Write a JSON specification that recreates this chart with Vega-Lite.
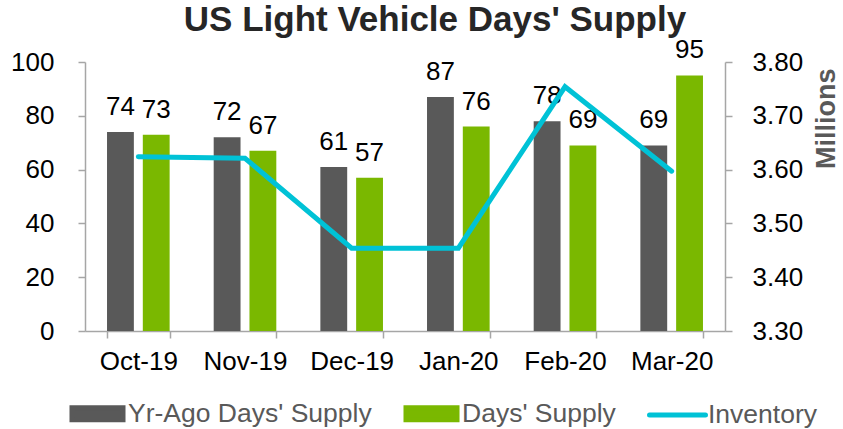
{
  "$schema": "https://vega.github.io/schema/vega-lite/v6.json",
  "width": 640,
  "height": 269,
  "autosize": {"type": "none"},
  "padding": {"left": 85, "top": 62, "right": 118, "bottom": 98},
  "config": {
    "font": "Liberation Sans",
    "view": {"stroke": null},
    "axis": {"domainColor": "#a6a6a6", "tickColor": "#a6a6a6", "labelColor": "#000000", "labelFontSize": 26, "grid": false, "tickSize": 7, "domainWidth": 1.5, "tickWidth": 1.5}
  },
  "title": {"text": "US Light Vehicle Days' Supply", "fontSize": 35, "fontWeight": "bold", "color": "#262626", "anchor": "middle", "frame": "group", "dx": 30, "offset": -1},
  "layer": [
    {
      "data": {"values": [
        {"month": "Oct-19", "series": "Yr-Ago Days' Supply", "value": 74},
        {"month": "Oct-19", "series": "Days' Supply", "value": 73},
        {"month": "Nov-19", "series": "Yr-Ago Days' Supply", "value": 72},
        {"month": "Nov-19", "series": "Days' Supply", "value": 67},
        {"month": "Dec-19", "series": "Yr-Ago Days' Supply", "value": 61},
        {"month": "Dec-19", "series": "Days' Supply", "value": 57},
        {"month": "Jan-20", "series": "Yr-Ago Days' Supply", "value": 87},
        {"month": "Jan-20", "series": "Days' Supply", "value": 76},
        {"month": "Feb-20", "series": "Yr-Ago Days' Supply", "value": 78},
        {"month": "Feb-20", "series": "Days' Supply", "value": 69},
        {"month": "Mar-20", "series": "Yr-Ago Days' Supply", "value": 69},
        {"month": "Mar-20", "series": "Days' Supply", "value": 95}
      ]},
      "encoding": {
        "x": {"field": "month", "type": "nominal", "sort": ["Oct-19", "Nov-19", "Dec-19", "Jan-20", "Feb-20", "Mar-20"],
              "scale": {"paddingInner": 0.413, "paddingOuter": 0.2065},
              "axis": {"title": null, "labelAngle": 0, "tickBand": "extent", "labelPadding": 10}},
        "xOffset": {"field": "series", "type": "nominal", "sort": ["Yr-Ago Days' Supply", "Days' Supply"], "scale": {"paddingInner": 0.25, "paddingOuter": 0}},
        "y": {"field": "value", "type": "quantitative", "scale": {"domain": [0, 100], "nice": false},
              "axis": {"title": null, "values": [0, 20, 40, 60, 80, 100], "labelPadding": 24, "orient": "left"}}
      },
      "layer": [
        {"mark": {"type": "bar"},
         "encoding": {"color": {"field": "series", "type": "nominal",
           "scale": {"domain": ["Yr-Ago Days' Supply", "Days' Supply", "Inventory"], "range": ["#595959", "#7AB800", "#00C2D6"]},
           "legend": {"orient": "none", "legendX": -13, "legendY": 326, "direction": "horizontal", "title": null,
             "symbolType": "M-1.109,-0.261H1.109V0.261H-1.109Z", "symbolSize": 2116, "symbolStrokeWidth": 5,
             "labelFontSize": 26.5, "labelColor": "#595959",
             "columnPadding": 23, "labelOffset": 5, "labelLimit": 400,
             "encode": {"symbols": {"update": {
               "shape": {"signal": "datum.value === 'Inventory' ? 'M-1.217,0H1.217' : 'M-1.109,-0.261H1.109V0.261H-1.109Z'"},
               "fill": {"signal": "datum.value === 'Inventory' ? 'transparent' : scale('color', datum.value)"},
               "stroke": {"signal": "datum.value === 'Inventory' ? scale('color', datum.value) : 'transparent'"},
               "strokeCap": {"value": "round"},
               "opacity": {"value": 1}, "fillOpacity": {"value": 1}, "strokeOpacity": {"value": 1}
             }}}}}}},
        {"mark": {"type": "text", "baseline": "alphabetic", "dy": -17, "fontSize": 26, "color": "#000000"},
         "encoding": {"text": {"field": "value", "type": "quantitative"}}}
      ]
    },
    {
      "data": {"values": [
        {"month": "Oct-19", "series": "Inventory", "inventory": 3.624},
        {"month": "Nov-19", "series": "Inventory", "inventory": 3.621},
        {"month": "Dec-19", "series": "Inventory", "inventory": 3.454},
        {"month": "Jan-20", "series": "Inventory", "inventory": 3.454},
        {"month": "Feb-20", "series": "Inventory", "inventory": 3.754},
        {"month": "Mar-20", "series": "Inventory", "inventory": 3.597}
      ]},
      "mark": {"type": "line", "strokeWidth": 5, "strokeCap": "round", "strokeJoin": "miter"},
      "encoding": {
        "x": {"field": "month", "type": "nominal", "sort": ["Oct-19", "Nov-19", "Dec-19", "Jan-20", "Feb-20", "Mar-20"]},
        "y": {"field": "inventory", "type": "quantitative", "scale": {"domain": [3.3, 3.8], "nice": false, "zero": false},
              "axis": {"orient": "right", "values": [3.3, 3.4, 3.5, 3.6, 3.7, 3.8], "format": ".2f", "labelPadding": 20,
                       "title": "Millions", "titleAngle": 270, "titleFontSize": 27, "titleFontWeight": "bold", "titleColor": "#595959",
                       "titleAnchor": "end", "titlePadding": 38, "titleY": 6, "titleAlign": "right"}},
        "color": {"field": "series", "type": "nominal"}
      }
    }
  ],
  "resolve": {"scale": {"y": "independent"}}
}
